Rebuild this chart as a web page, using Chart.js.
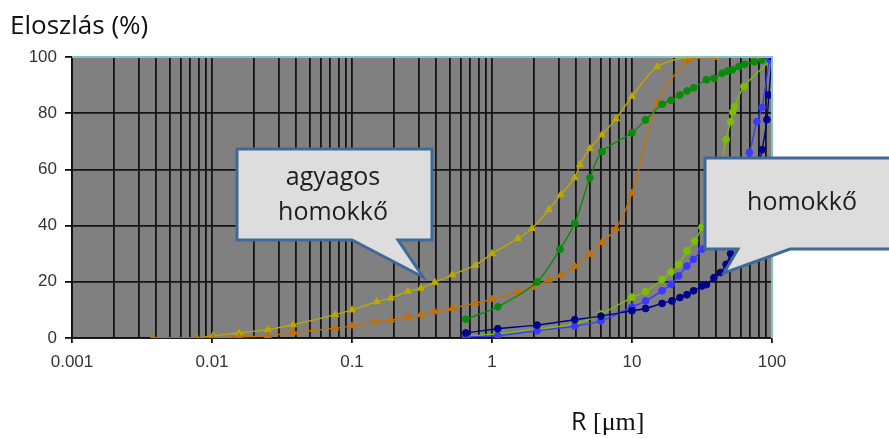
<!DOCTYPE html>
<html>
<head>
<meta charset="utf-8">
<script src="https://cdn.jsdelivr.net/npm/chart.js@4.4.1/dist/chart.umd.min.js"></script>
<style>
  html, body { margin: 0; padding: 0; background: #fff; }
  #wrap { width: 889px; height: 438px; }
</style>
</head>
<body>
<div id="wrap"><canvas id="chart" width="889" height="438"></canvas></div>
<script>
// Axis ticks
const xTickValues = [0.001, 0.01, 0.1, 1, 10, 100];
const xTickLabels = ['0.001', '0.01', '0.1', '1', '10', '100'];
const yTickValues = [0, 20, 40, 60, 80, 100];

// agyagos homokkő (triangles)
const yellowR = [0.0038, 0.0078, 0.0102, 0.0156, 0.025, 0.038, 0.076, 0.1, 0.15, 0.19, 0.25, 0.31, 0.39, 0.52, 0.76, 1.0, 1.53, 1.93, 2.55, 3.1, 3.9, 4.25, 5.0, 6.1, 7.7, 10, 15.1, 25, 39, 78, 100];
const yellowPct = [0, 0, 0.8, 1.8, 3, 4.7, 8.3, 10, 12.9, 14.2, 16.6, 17.7, 19.8, 22.5, 25.9, 30, 35.4, 39, 45.7, 51, 57, 61.7, 67.4, 72.3, 78, 86, 96.5, 100, 100, 100, 100];

const orangeR = [0.0038, 0.0078, 0.0102, 0.0156, 0.025, 0.038, 0.076, 0.1, 0.15, 0.19, 0.25, 0.31, 0.39, 0.52, 0.76, 1.0, 1.53, 1.93, 2.55, 3.1, 3.9, 5.0, 6.1, 7.7, 10, 15.1, 25, 38, 77, 100];
const orangePct = [0, 0, 0, 0.4, 0.8, 2, 3.5, 4.3, 5.8, 6.4, 7.6, 8.3, 9.3, 10.6, 12.4, 13.8, 16.3, 18, 20.6, 22.3, 25.5, 29.8, 34, 39, 51.6, 83.6, 98.5, 100, 100, 100];

const greenR = [0.65, 1.1, 2.1, 3.06, 3.9, 5.0, 6.1, 10, 12.5, 16.4, 19, 22, 24.7, 27.5, 34, 38.5, 44, 48, 52, 58, 64, 75, 85, 95, 100];
const greenPct = [6.7, 11.1, 20, 31.6, 40.8, 57, 66.3, 73, 77.6, 83.2, 84.6, 86.5, 87.9, 89, 91.9, 92.4, 94.2, 95, 95.4, 96.6, 97.4, 98.3, 98.9, 98.9, 100];

// homokkő (circles)
const limeR = [0.65, 1.1, 2.1, 3.9, 6.0, 10, 12.5, 16.4, 19, 21.5, 24.7, 28, 31.6, 42, 47, 50.6, 52.4, 54, 63, 95, 100];
const limePct = [0.5, 1.5, 3.2, 5, 8.5, 14.5, 16.5, 20.8, 23.5, 26.2, 31, 34.5, 39.4, 58, 70.7, 77, 80.4, 82.4, 89.5, 98.3, 100];

const blueR = [0.65, 1.1, 2.1, 3.9, 6.0, 10, 12.5, 16.4, 19, 21.5, 24.7, 27.5, 31.6, 45, 60, 69, 78, 85, 96, 100];
const bluePct = [0.4, 0.8, 2.6, 4.2, 6.1, 11, 13.2, 16.8, 19.1, 22.1, 25.6, 28, 31.6, 46, 58, 66, 77, 82, 99, 100];

const navyR = [0.65, 1.1, 2.1, 3.9, 6.0, 10, 12.5, 16.4, 19.3, 22, 24.7, 27.5, 31.6, 34, 38.5, 42.8, 47, 50.6, 60, 75, 85, 92, 95, 100];
const navyPct = [1.8, 3.3, 4.6, 6.5, 7.8, 9.7, 10.5, 12.3, 13.2, 14.4, 15.4, 16.8, 18.5, 19, 21.5, 23.3, 26.2, 30, 42, 55, 67, 77.7, 86.5, 100];

const toPoints = (xs, ys) => xs.map((x, i) => ({ x: x, y: ys[i] }));

const makeSeries = (xs, ys, color, style) => ({
  data: toPoints(xs, ys),
  borderColor: color,
  backgroundColor: color,
  borderWidth: 1.4,
  pointStyle: style,
  pointRadius: style === 'triangle' ? 4 : 3.4,
  pointBorderWidth: 1,
  tension: 0.3,
  fill: false
});

// minor grid: 1..9 in every decade
const gridTicks = [];
xTickValues.forEach((v, i) => {
  if (i === xTickValues.length - 1) {
    gridTicks.push({ value: v, major: true, label: xTickLabels[i] });
    return;
  }
  for (let k = 1; k <= 9; k++) {
    gridTicks.push({ value: v * k, major: k === 1, label: k === 1 ? xTickLabels[i] : '' });
  }
});

// callouts, title, axis caption and the light frame on top/right
const overlay = {
  id: 'overlay',
  afterDatasetsDraw(chart) {
    const c = chart.ctx;
    const a = chart.chartArea;
    c.save();

    c.strokeStyle = '#86c2c4';
    c.lineWidth = 2;
    c.beginPath();
    c.moveTo(a.left, a.top);
    c.lineTo(a.right, a.top);
    c.lineTo(a.right, a.bottom);
    c.stroke();

    const bubble = pts => {
      c.beginPath();
      c.moveTo(pts[0][0], pts[0][1]);
      for (let i = 1; i < pts.length; i++) c.lineTo(pts[i][0], pts[i][1]);
      c.closePath();
      c.fillStyle = '#dddddd';
      c.fill();
      c.lineJoin = 'miter';
      c.strokeStyle = '#3f6a98';
      c.lineWidth = 3;
      c.stroke();
    };
    bubble([[237, 149], [432, 149], [432, 240], [398, 240], [423, 277], [352, 240], [237, 240]]);
    bubble([[705, 158], [900, 158], [900, 249], [790, 249], [724, 273], [738, 249], [705, 249]]);

    c.fillStyle = '#1e1e1e';
    c.font = '25px "Open Sans"';
    c.textAlign = 'center';
    c.textBaseline = 'middle';
    c.fillText('agyagos', 333, 178);
    c.fillText('homokkő', 333, 213);
    c.fillText('homokkő', 802, 203);

    c.textAlign = 'left';
    c.textBaseline = 'alphabetic';
    c.fillStyle = '#111';
    c.font = '26px "Open Sans"';
    c.fillText('Eloszlás (%)', 10, 34);

    c.font = '25px "Open Sans"';
    c.fillText('R', 571, 430);
    c.font = '26px "Liberation Serif"';
    c.fillText('[μm]', 593, 430);

    c.restore();
  }
};

const plotBg = {
  id: 'plotBg',
  beforeDraw(chart) {
    const a = chart.chartArea;
    chart.ctx.save();
    chart.ctx.fillStyle = '#808080';
    chart.ctx.fillRect(a.left, a.top, a.right - a.left, a.bottom - a.top);
    chart.ctx.restore();
  }
};

new Chart(document.getElementById('chart'), {
  type: 'line',
  data: {
    datasets: [
      makeSeries(navyR, navyPct, '#00008a', 'circle'),
      makeSeries(blueR, bluePct, '#3a3aff', 'circle'),
      makeSeries(limeR, limePct, '#7cbf00', 'circle'),
      makeSeries(greenR, greenPct, '#0a8a0a', 'circle'),
      makeSeries(orangeR, orangePct, '#c47000', 'triangle'),
      makeSeries(yellowR, yellowPct, '#bca800', 'triangle')
    ]
  },
  plugins: [plotBg, overlay],
  options: {
    responsive: false,
    animation: false,
    events: [],
    layout: { padding: { top: 57, right: 117, left: 0, bottom: 0 } },
    plugins: { legend: { display: false }, tooltip: { enabled: false } },
    scales: {
      x: {
        type: 'logarithmic',
        min: 0.001,
        max: 100,
        afterBuildTicks: s => { s.ticks = gridTicks.map(t => ({ value: t.value, major: t.major, label: t.label })); },
        afterFit: s => { s.height = 100; },
        ticks: {
          autoSkip: false,
          maxRotation: 0,
          padding: 9,
          color: '#333',
          font: { family: '"Liberation Sans"', size: 17 },
          callback: (v, i, ticks) => gridTicks[i] ? gridTicks[i].label : ''
        },
        grid: {
          color: '#141414',
          lineWidth: 1.8,
          tickLength: 5,
          tickColor: c => (c.tick && gridTicks.find(t => t.value === c.tick.value && t.major)) ? '#111' : 'rgba(0,0,0,0)'
        },
        border: { color: '#111', width: 1.8 }
      },
      y: {
        min: 0,
        max: 100,
        afterBuildTicks: s => { s.ticks = yTickValues.map(v => ({ value: v })); },
        afterFit: s => { s.width = 72; },
        ticks: {
          padding: 8,
          color: '#333',
          font: { family: '"Liberation Sans"', size: 17 }
        },
        grid: { color: '#141414', lineWidth: 1.8, tickLength: 7, tickColor: '#111' },
        border: { color: '#111', width: 1.8 }
      }
    }
  }
});
</script>
</body>
</html>
